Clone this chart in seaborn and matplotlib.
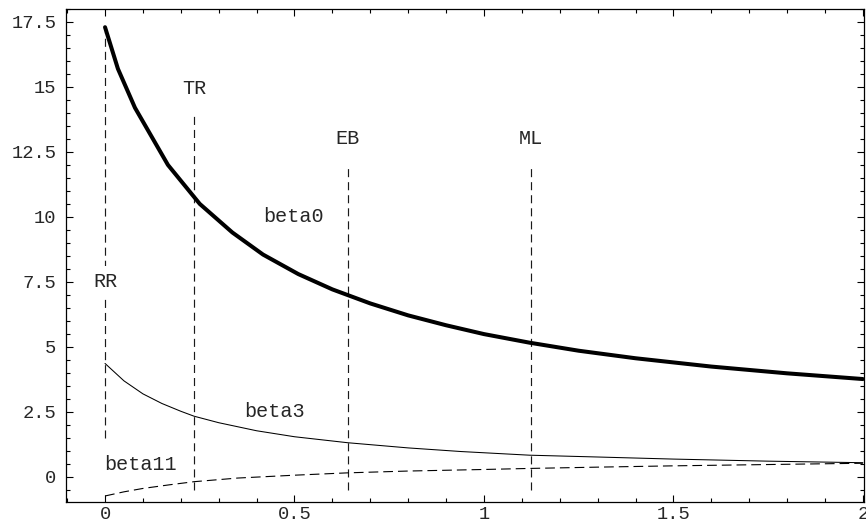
import numpy as np
import pandas as pd
import matplotlib
matplotlib.use("Agg")
import matplotlib.pyplot as plt
import seaborn as sns
from matplotlib.ticker import MultipleLocator, FuncFormatter

# ---- data ----
b0_x = [0.0, 0.034, 0.079, 0.166, 0.25, 0.336, 0.417, 0.51, 0.6, 0.7, 0.8, 0.9,
        1.0, 1.12, 1.25, 1.4, 1.6, 1.8, 2.0]
b0_y = [17.3, 15.7, 14.2, 12.0, 10.5, 9.4, 8.55, 7.8, 7.21, 6.67, 6.21, 5.83,
        5.49, 5.16, 4.85, 4.56, 4.24, 3.98, 3.76]

b3_x = [0.0, 0.05, 0.1, 0.15, 0.2, 0.235, 0.3, 0.4, 0.5, 0.64, 0.8, 0.94,
        1.12, 1.3, 1.5, 1.75, 2.0]
b3_y = [4.36, 3.69, 3.19, 2.82, 2.52, 2.33, 2.08, 1.77, 1.54, 1.31, 1.11, 0.97,
        0.83, 0.76, 0.68, 0.60, 0.54]

b11_x = [0.0, 0.05, 0.1, 0.17, 0.235, 0.35, 0.5, 0.64, 0.8, 1.0, 1.12, 1.3,
         1.5, 1.75, 2.0]
b11_y = [-0.74, -0.58, -0.45, -0.31, -0.19, -0.05, 0.06, 0.15, 0.22, 0.28,
         0.32, 0.37, 0.42, 0.47, 0.52]

ref_names = ["RR", "TR", "EB", "ML"]
ref_x = [0.0, 0.235, 0.64, 1.123]
ref_lo = [1.5, -0.5, -0.5, -0.5]
ref_hi = [17.3, 14.0, 12.0, 12.0]

x_ticks = [0, 0.5, 1, 1.5, 2]
y_ticks = [0, 2.5, 5, 7.5, 10, 12.5, 15, 17.5]

# ---- style ----
sns.set_theme(style="white")
plt.rcParams["font.family"] = ["Liberation Mono", "DejaVu Sans Mono"]
plt.rcParams["lines.scale_dashes"] = False

fig = plt.figure(figsize=(8.66, 5.24), dpi=100)
ax = fig.add_axes([66 / 866, 1 - 501.7 / 524, (864 - 66) / 866, (501.7 - 9) / 524])

df0 = pd.DataFrame({"x": b0_x, "y": b0_y})
df3 = pd.DataFrame({"x": b3_x, "y": b3_y})
df11 = pd.DataFrame({"x": b11_x, "y": b11_y})

sns.lineplot(data=df0, x="x", y="y", ax=ax, color="black", linewidth=2.9,
             sort=False, estimator=None, zorder=3)
sns.lineplot(data=df3, x="x", y="y", ax=ax, color="black", linewidth=0.75,
             sort=False, estimator=None, zorder=3)
sns.lineplot(data=df11, x="x", y="y", ax=ax, color="black", linewidth=0.8,
             sort=False, estimator=None, zorder=3)
ax.lines[-1].set_dashes((7.0, 3.6))

vl = ax.vlines(ref_x, ref_lo, ref_hi, colors="#1a1a1a", linewidth=0.85, zorder=2)
vl.set_linestyle((0, (5.8, 3.6)))

tfs = 14.5
# reference line labels
ax.text(ref_x[0], 7.5, ref_names[0], ha="center", va="center", fontsize=tfs,
        zorder=4, bbox=dict(facecolor="white", edgecolor="none", pad=5))
ax.text(ref_x[1], 14.95, ref_names[1], ha="center", va="center", fontsize=tfs)
ax.text(ref_x[2], 13.03, ref_names[2], ha="center", va="center", fontsize=tfs)
ax.text(ref_x[3], 13.03, ref_names[3], ha="center", va="center", fontsize=tfs)

# curve labels
ax.text(0.497, 10.0, "beta0", ha="center", va="center", fontsize=tfs)
ax.text(0.447, 2.5, "beta3", ha="center", va="center", fontsize=tfs)
ax.text(0.095, 0.49, "beta11", ha="center", va="center", fontsize=tfs)

ax.set_xlim(-0.103, 2.003)
ax.set_ylim(-0.96, 18.0)
ax.set_xlabel("")
ax.set_ylabel("")

ax.set_xticks(x_ticks)
ax.set_yticks(y_ticks)
fmt = FuncFormatter(lambda v, p: ("%g" % v))
ax.xaxis.set_major_formatter(fmt)
ax.yaxis.set_major_formatter(fmt)
ax.xaxis.set_minor_locator(MultipleLocator(0.1))
ax.yaxis.set_minor_locator(MultipleLocator(0.5))

ax.tick_params(which="both", direction="in", top=True, right=True, bottom=True,
               left=True, color="black", width=0.8)
ax.tick_params(which="major", length=5)
ax.tick_params(which="minor", length=3)
ax.tick_params(axis="x", which="major", labelsize=13.5, pad=3)
ax.tick_params(axis="y", which="major", labelsize=13.5, pad=7)

for s in ax.spines.values():
    s.set_color("black")
    s.set_linewidth(0.9)
    s.set_visible(True)

fig.savefig("out.png", dpi=100)
